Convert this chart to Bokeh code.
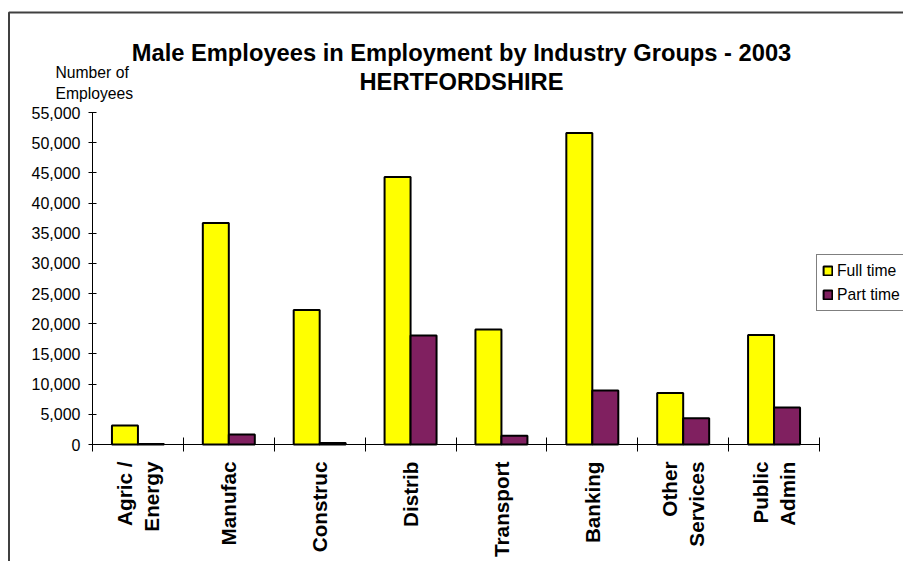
import math
from bokeh.plotting import figure
from bokeh.models import (Range1d, FixedTicker, NumeralTickFormatter, Label,
                          Legend, LegendItem, ColumnDataSource, BoxAnnotation)
from bokeh.embed import file_html
from bokeh.resources import INLINE

# ---------------- data ----------------
categories = ["Agric /\nEnergy", "Manufac", "Construc", "Distrib",
              "Transport", "Banking", "Other\nServices", "Public\nAdmin"]
full_time = [3150, 36700, 22300, 44300, 19050, 51600, 8550, 18150]
part_time = [100, 1650, 250, 18050, 1450, 8950, 4350, 6150]
series_names = ["Full time", "Part time"]
y_ticks = [0, 5000, 10000, 15000, 20000, 25000, 30000, 35000, 40000,
           45000, 50000, 55000]
title_lines = ["Male Employees in Employment by Industry Groups - 2003",
               "HERTFORDSHIRE"]
ylabel_lines = ["Number of", "Employees"]

# ---------------- layout (page pixels) ----------------
W, H = 903, 561          # canvas size; canvas sits at page (0, 0)
PAGE_OFF = 0
AX_LEFT, AX_RIGHT = 92, 819     # page x of category boundary 0 and 8
AX_TOP, AX_BOTTOM = 112, 444    # page y of 55,000 and 0
Y_MAX = 55000
N = len(categories)
FONT = "Liberation Sans"
FULL_COLOR = "#FFFF00"
PART_COLOR = "#802060"

def xd(px):
    return (px - AX_LEFT) / (AX_RIGHT - AX_LEFT) * N

def yd(py):
    return (AX_BOTTOM - py) / (AX_BOTTOM - AX_TOP) * Y_MAX

p = figure(width=W, height=H, output_backend="svg", toolbar_location=None,
           x_range=Range1d(xd(PAGE_OFF), xd(PAGE_OFF + W)),
           y_range=Range1d(yd(PAGE_OFF + H), yd(PAGE_OFF)),
           min_border=0, min_border_left=0, min_border_right=0,
           min_border_top=0, min_border_bottom=0)
p.title.visible = False
p.outline_line_color = None
p.xgrid.visible = False
p.ygrid.visible = False
p.background_fill_color = "white"
p.border_fill_color = "white"

# outer chart border (left and top edges visible, rest beyond the page)
p.add_layout(BoxAnnotation(left=xd(8.5), top=yd(12), right=xd(PAGE_OFF + W + 20),
                           bottom=yd(PAGE_OFF + H + 20), fill_color=None,
                           fill_alpha=0, line_color="#404040", line_alpha=1,
                           line_width=2))

bar_w = 0.286
src = ColumnDataSource(dict(
    xf=[i + 0.5 - bar_w / 2 for i in range(N)],
    xp=[i + 0.5 + bar_w / 2 for i in range(N)],
    full=full_time, part=part_time))
r_full = p.vbar(x="xf", top="full", width=bar_w, source=src,
                fill_color=FULL_COLOR, line_color="black", line_width=2)
r_part = p.vbar(x="xp", top="part", width=bar_w, source=src,
                fill_color=PART_COLOR, line_color="black", line_width=2)

# y axis
ya = p.yaxis[0]
ya.fixed_location = 0
ya.bounds = (0, Y_MAX)
ya.ticker = FixedTicker(ticks=y_ticks)
ya.formatter = NumeralTickFormatter(format="0,0")
ya.major_tick_in = 4
ya.major_tick_out = 4
ya.minor_tick_line_color = None
ya.major_label_standoff = 8
ya.major_label_text_font = FONT
ya.major_label_text_font_size = "16px"
ya.major_label_text_color = "black"
ya.axis_line_color = "black"
ya.major_tick_line_color = "black"

# x axis
xa = p.xaxis[0]
xa.fixed_location = 0
xa.bounds = (0, N)
xa.ticker = FixedTicker(ticks=[i + 0.5 for i in range(N)],
                        minor_ticks=list(range(N + 1)))
xa.major_label_overrides = {i + 0.5: c for i, c in enumerate(categories)}
xa.major_tick_line_color = None
xa.major_tick_in = 0
xa.major_tick_out = 0
xa.minor_tick_in = 7
xa.minor_tick_out = 7
xa.minor_tick_line_color = "black"
xa.axis_line_color = "black"
xa.major_label_orientation = math.pi / 2
xa.major_label_standoff = 10
xa.major_label_text_font = FONT
xa.major_label_text_font_style = "bold"
xa.major_label_text_font_size = "20.7px"
xa.major_label_text_line_height = 1.18
xa.major_label_text_color = "black"

# titles
for txt, base in zip(title_lines, [52.3, 81.7]):
    p.add_layout(Label(x=xd(461), y=yd(base), text=txt,
                       text_align="center", text_baseline="alphabetic",
                       text_font=FONT, text_font_style="bold",
                       text_font_size="23.7px", text_color="black"))
for txt, base in zip(ylabel_lines, [71.7, 92.7]):
    p.add_layout(Label(x=xd(55), y=yd(base), text=txt,
                       text_align="left", text_baseline="alphabetic",
                       text_font=FONT, text_font_size="15.7px",
                       text_color="black"))

legend = Legend(items=[LegendItem(label=series_names[0], renderers=[r_full]),
                       LegendItem(label=series_names[1], renderers=[r_part])],
                location=(816 - PAGE_OFF, PAGE_OFF + H - 311))
legend.border_line_color = "black"
legend.border_line_width = 1
legend.background_fill_color = "white"
legend.background_fill_alpha = 1
legend.padding = 5
legend.spacing = 3
legend.margin = 0
legend.label_height = 21
legend.glyph_height = 11
legend.glyph_width = 11
legend.label_standoff = 4
legend.label_text_font = FONT
legend.label_text_font_size = "15.7px"
legend.label_text_color = "black"
p.add_layout(legend)

open("out.html", "w").write(file_html(p, INLINE))
